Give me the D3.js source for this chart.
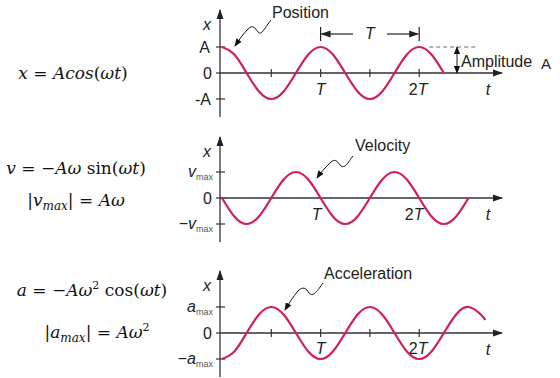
<!DOCTYPE html>
<html>
<head>
<meta charset="utf-8">
<script src="https://cdn.jsdelivr.net/npm/d3@7"></script>
<style>
  body { margin: 0; background: #fff; }
  svg { display: block; }
  .lab { font-family: "Liberation Sans", Arial, sans-serif; fill: #222; }
  .math { font-family: "DejaVu Serif", serif; fill: #111; }
</style>
</head>
<body>
<div id="container"></div>
<script>
// curve samples, one every eighth of a period (t in units of T)
var posT = [0,0.125,0.25,0.375,0.5,0.625,0.75,0.875,1,1.125,1.25,1.375,1.5,1.625,1.75,1.875,2,2.125,2.25]
var posVals = [1,0.71,0,-0.71,-1,-0.71,0,0.71,1,0.71,0,-0.71,-1,-0.71,0,0.71,1,0.71,0]

var velT = [0,0.125,0.25,0.375,0.5,0.625,0.75,0.875,1,1.125,1.25,1.375,1.5,1.625,1.75,1.875,2,2.125,2.25,2.375,2.5]
var velVals = [0,-0.71,-1,-0.71,0,0.71,1,0.71,0,-0.71,-1,-0.71,0,0.71,1,0.71,0,-0.71,-1,-0.71,0]

var accT = [0,0.125,0.25,0.375,0.5,0.625,0.75,0.875,1,1.125,1.25,1.375,1.5,1.625,1.75,1.875,2,2.125,2.25,2.375,2.5,2.625,2.67]
var accVals = [-1,-0.71,0,0.71,1,0.71,0,-0.71,-1,-0.71,0,0.71,1,0.71,0,-0.71,-1,-0.71,0,0.71,1,0.71,0.5]

// tick labels
var panelNames = ["Position", "Velocity", "Acceleration"]
var tTicks = [0.5, 1, 1.5, 2]

var width = 560
var height = 378
var curveColor = "#d01f5a"
var axisColor = "#333"

var svg = d3.select("#container")
  .append("svg")
  .attr("width", width)
  .attr("height", height)

var defs = svg.append("defs")
defs.append("marker")
  .attr("id", "tri")
  .attr("viewBox", "0 0 10 10")
  .attr("refX", 9).attr("refY", 5)
  .attr("markerWidth", 10).attr("markerHeight", 10)
  .attr("markerUnits", "userSpaceOnUse")
  .attr("orient", "auto")
  .append("path").attr("d", "M0,1.5L10,5L0,8.5Z").attr("fill", "#222")
defs.append("marker")
  .attr("id", "tip")
  .attr("viewBox", "0 0 10 10")
  .attr("refX", 9).attr("refY", 5)
  .attr("markerWidth", 8).attr("markerHeight", 8)
  .attr("markerUnits", "userSpaceOnUse")
  .attr("orient", "auto")
  .append("path").attr("d", "M0,1L10,5L0,9Z").attr("fill", "#111")

// shared time scale
var x = d3.scaleLinear().domain([0, 2.84]).range([222, 502])
var axisX = 220

// panel layout: zero line, top/bottom of vertical axis
var panels = [
  { name: panelNames[0], zero: 73, top: 10, bottom: 117, t: posT, v: posVals },
  { name: panelNames[1], zero: 198, top: 137, bottom: 242, t: velT, v: velVals },
  { name: panelNames[2], zero: 333, top: 271, bottom: 377, t: accT, v: accVals }
]

panels.forEach(function(p, i) {
  p.y = d3.scaleLinear().domain([-1, 1]).range([p.zero + 26, p.zero - 26])
  var g = svg.append("g")

  // vertical axis with arrow
  g.append("line")
    .attr("x1", axisX).attr("x2", axisX)
    .attr("y1", p.bottom).attr("y2", p.top)
    .attr("stroke", axisColor).attr("stroke-width", 1.3)
    .attr("marker-end", "url(#tri)")

  // horizontal axis with arrow
  g.append("line")
    .attr("x1", axisX).attr("x2", x(2.84))
    .attr("y1", p.zero).attr("y2", p.zero)
    .attr("stroke", axisColor).attr("stroke-width", 1.3)
    .attr("marker-end", "url(#tri)")

  // y ticks at +1 / -1
  g.selectAll(".yt")
    .data([1, -1])
    .enter().append("line")
    .attr("x1", axisX - 4).attr("x2", axisX + 5)
    .attr("y1", function(d) { return p.y(d) }).attr("y2", function(d) { return p.y(d) })
    .attr("stroke", axisColor).attr("stroke-width", 1.2)
  // zero tick
  g.append("line")
    .attr("x1", axisX - 4).attr("x2", axisX)
    .attr("y1", p.zero).attr("y2", p.zero)
    .attr("stroke", axisColor).attr("stroke-width", 1.2)

  // t ticks
  if (i != 1) {
    g.selectAll(".tt")
      .data(tTicks)
      .enter().append("line")
      .attr("x1", function(d) { return x(d) }).attr("x2", function(d) { return x(d) })
      .attr("y1", p.zero - 4).attr("y2", p.zero + 4)
      .attr("stroke", axisColor).attr("stroke-width", 1.2)
  }

  // curve
  var line = d3.line()
    .x(function(d, j) { return x(p.t[j]) })
    .y(function(d) { return p.y(d) })
    .curve(d3.curveNatural)
  g.append("path")
    .datum(p.v)
    .attr("d", line)
    .attr("fill", "none")
    .attr("stroke", curveColor)
    .attr("stroke-width", 2.2)

  // axis letters
  g.append("text").attr("class", "lab")
    .attr("x", 207).attr("y", p.top + 20)
    .attr("text-anchor", "middle")
    .style("font-size", "16px").style("font-style", "italic")
    .text("x")
  g.append("text").attr("class", "lab")
    .attr("x", 212).attr("y", p.zero + 6)
    .attr("text-anchor", "end")
    .style("font-size", "16px")
    .text("0")
  var shift = (i == 1) ? -4 : 0
  var dy = (i == 2) ? 21 : 22
  g.append("text").attr("class", "lab")
    .attr("x", x(1) + shift).attr("y", p.zero + dy)
    .attr("text-anchor", "middle")
    .style("font-size", "16px").style("font-style", "italic")
    .text("T")
  var two = g.append("text").attr("class", "lab")
    .attr("x", x(2) + shift - 1).attr("y", p.zero + dy)
    .attr("text-anchor", "middle")
    .style("font-size", "16px")
  two.append("tspan").text("2")
  two.append("tspan").style("font-style", "italic").text("T")
  g.append("text").attr("class", "lab")
    .attr("x", 488).attr("y", p.zero + 22)
    .attr("text-anchor", "middle")
    .style("font-size", "16px").style("font-style", "italic")
    .text("t")
})

// y tick labels
var p0 = panels[0], p1 = panels[1], p2 = panels[2]
svg.append("text").attr("class", "lab")
  .attr("x", 210).attr("y", p0.y(1) + 6).attr("text-anchor", "end")
  .style("font-size", "16px").text("A")
svg.append("text").attr("class", "lab")
  .attr("x", 211).attr("y", p0.y(-1) + 6).attr("text-anchor", "end")
  .style("font-size", "16px").text("-A")

function maxLabel(p, letter, val, neg) {
  var t = svg.append("text").attr("class", "lab")
    .attr("x", 213).attr("y", p.y(val) + 5).attr("text-anchor", "end")
    .style("font-size", "16px")
  if (neg) t.append("tspan").text("\u2212")
  t.append("tspan").style("font-style", "italic").text(letter)
  t.append("tspan").style("font-size", "9px").attr("dy", 3).attr("fill", "#555").text("max")
}
maxLabel(p1, "v", 1, false)
maxLabel(p1, "v", -1, true)
maxLabel(p2, "a", 1, false)
maxLabel(p2, "a", -1, true)

// period bracket
var by = 34
;[1, 2].forEach(function(d) {
  svg.append("line")
    .attr("x1", x(d)).attr("x2", x(d)).attr("y1", by - 7).attr("y2", by + 7)
    .attr("stroke", "#222").attr("stroke-width", 1.2)
})
svg.append("line").attr("x1", 353).attr("x2", x(1) + 1).attr("y1", by).attr("y2", by)
  .attr("stroke", "#222").attr("stroke-width", 1.2).attr("marker-end", "url(#tri)")
svg.append("line").attr("x1", 387).attr("x2", x(2) - 1).attr("y1", by).attr("y2", by)
  .attr("stroke", "#222").attr("stroke-width", 1.2).attr("marker-end", "url(#tri)")
svg.append("text").attr("class", "lab")
  .attr("x", 370).attr("y", by + 5).attr("text-anchor", "middle")
  .style("font-size", "16px").style("font-style", "italic").text("T")

// amplitude marker
svg.append("line")
  .attr("x1", x(2) + 10).attr("x2", 478)
  .attr("y1", p0.y(1)).attr("y2", p0.y(1))
  .attr("stroke", "#666").attr("stroke-width", 1).attr("stroke-dasharray", "4,3")
svg.append("line")
  .attr("x1", 457).attr("x2", 457).attr("y1", p0.zero - 13).attr("y2", p0.y(1))
  .attr("stroke", "#222").attr("stroke-width", 1).attr("marker-end", "url(#tip)")
svg.append("line")
  .attr("x1", 457).attr("x2", 457).attr("y1", p0.zero - 13).attr("y2", p0.zero)
  .attr("stroke", "#222").attr("stroke-width", 1).attr("marker-end", "url(#tip)")
svg.append("text").attr("class", "lab")
  .attr("x", 461).attr("y", 67)
  .style("font-size", "16px").text("Amplitude")
svg.append("text").attr("class", "lab")
  .attr("x", 541).attr("y", 69)
  .style("font-size", "15px").text("A")

// curve name labels with squiggly pointers
var callouts = [
  { text: panelNames[0], tx: 272, ty: 18, d: "M271,20 C265,27 262,36 258,32 C255,28 253,24 248,29 C243,34 239,40 235,46" },
  { text: panelNames[1], tx: 355, ty: 151, d: "M353,156 C348,162 345,170 340,165 C337,161 335,158 330,163 C325,168 321,172 317,178" },
  { text: panelNames[2], tx: 324, ty: 279, d: "M323,283 C318,290 313,298 309,293 C306,288 303,286 298,291 C293,297 289,303 285,310" }
]
callouts.forEach(function(c) {
  svg.append("path").attr("d", c.d)
    .attr("fill", "none").attr("stroke", "#111").attr("stroke-width", 1)
    .attr("marker-end", "url(#tip)")
  svg.append("text").attr("class", "lab")
    .attr("x", c.tx).attr("y", c.ty)
    .style("font-size", "16px").text(c.text)
})

// formulas on the left
function formula(xc, yb, parts) {
  var t = svg.append("text").attr("class", "math")
    .attr("x", xc).attr("y", yb).attr("text-anchor", "middle")
    .style("font-size", "17px")
  parts.forEach(function(s) {
    var sp = t.append("tspan").text(s[0])
    if (s[1] == "i") sp.style("font-style", "italic")
    if (s[1] == "sub") sp.style("font-style", "italic").style("font-size", "12px").attr("dy", 4)
    if (s[1] == "sup") sp.style("font-size", "11px").attr("dy", -7)
    if (s[2]) sp.attr("dy", s[2])
  })
}
formula(73, 79, [["x", "i"], [" = "], ["Acos", "i"], ["("], ["\u03c9t", "i"], [")"]])
formula(76, 174, [["v", "i"], [" = \u2212"], ["A\u03c9", "i"], [" sin("], ["\u03c9t", "i"], [")"]])
formula(76, 206, [["|"], ["v", "i"], ["max", "sub"], ["|", "", -4], [" = "], ["A\u03c9", "i"]])
formula(92, 296, [["a", "i"], [" = \u2212"], ["A\u03c9", "i"], ["2", "sup"], [" cos(", "", 7], ["\u03c9t", "i"], [")"]])
formula(97, 338, [["|"], ["a", "i"], ["max", "sub"], ["|", "", -4], [" = "], ["A\u03c9", "i"], ["2", "sup"]])
</script>
</body>
</html>
